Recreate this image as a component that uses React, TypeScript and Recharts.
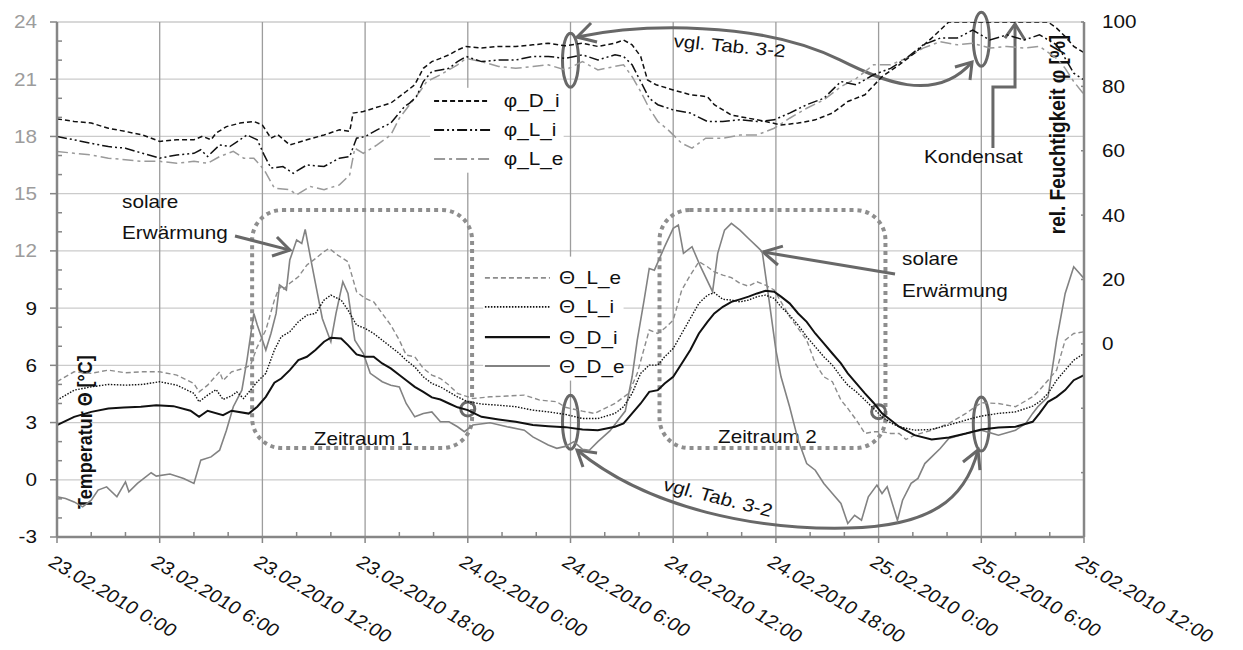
import { CartesianGrid, Line, LineChart, ReferenceArea, XAxis, YAxis } from 'recharts'

// [hours since 23.02.2010 0:00, value]
type Pt = [number, number]

const hourTicks = [0, 2, 4, 6, 8, 10, 12, 14, 16, 18, 20, 22, 24, 26, 28, 30, 32, 34, 36, 38, 40, 42, 44, 46, 48, 50, 52, 54, 56, 58, 60]
const gridHours = [0, 6, 12, 18, 24, 30, 36, 42, 48, 54, 60]
const dateLabels = [
  '23.02.2010 0:00', '23.02.2010 6:00', '23.02.2010 12:00', '23.02.2010 18:00',
  '24.02.2010 0:00', '24.02.2010 6:00', '24.02.2010 12:00', '24.02.2010 18:00',
  '25.02.2010 0:00', '25.02.2010 6:00', '25.02.2010 12:00',
]
const tempTicks = [-3, -2, -1, 0, 1, 2, 3, 4, 5, 6, 7, 8, 9, 10, 11, 12, 13, 14, 15, 16, 17, 18, 19, 20, 21, 22, 23, 24]
const tempGrid = [-3, 0, 3, 6, 9, 12, 15, 18, 21, 24]
const humTicks = [-60, -40, -20, 0, 20, 40, 60, 80, 100]

// temperatures in °C
const thetaDi: Pt[] = [
  [0, 2.87], [1, 3.3], [2, 3.56], [3, 3.74], [3.9, 3.79], [4.9, 3.83], [5.8, 3.91], [6.8, 3.86], [7.8, 3.62], [8.3, 3.3],
  [8.8, 3.62], [9.7, 3.39], [10.2, 3.62], [11.2, 3.47], [11.7, 3.83], [12.2, 4.35], [12.7, 5.09], [13.1, 5.31], [13.6, 5.75],
  [14.1, 6.27], [14.6, 6.45], [15.1, 6.8], [15.6, 7.24], [16, 7.45], [16.6, 7.41], [17, 7.06], [17.5, 6.57], [18, 6.45],
  [18.5, 6.45], [19, 6.1], [19.5, 5.84], [20, 5.49], [20.4, 5.22], [20.9, 4.87], [21.4, 4.61], [21.9, 4.32], [22.4, 4.21],
  [22.9, 4.0], [23.4, 3.8], [24, 3.65], [24.8, 3.3], [25.8, 3.16], [26.8, 3.04], [27.8, 2.87], [28.7, 2.81], [29.7, 2.76],
  [30.7, 2.64], [31.6, 2.6], [32.6, 2.78], [33.1, 2.95], [33.6, 3.48], [34.1, 4.0], [34.6, 4.61], [35.1, 4.7], [35.5, 5.05],
  [36, 5.4], [36.5, 6.1], [37, 6.8], [37.5, 7.67], [38, 8.28], [38.4, 8.72], [38.9, 9.07], [39.4, 9.33], [39.9, 9.46],
  [40.4, 9.6], [40.9, 9.77], [41.4, 9.91], [41.9, 9.86], [42.3, 9.6], [42.8, 9.25], [43.3, 8.72], [43.8, 8.28], [44.3, 7.67],
  [44.8, 7.15], [45.3, 6.62], [45.8, 6.1], [46.2, 5.58], [46.7, 5.05], [47.2, 4.53], [47.7, 4.04], [48.2, 3.48], [48.7, 3.13],
  [49.2, 2.78], [50.1, 2.34], [51.1, 2.11], [52.1, 2.22], [53.1, 2.43], [54, 2.64], [55, 2.74], [56, 2.78], [57, 3.04],
  [57.4, 3.48], [57.9, 4.09], [58.4, 4.35], [58.9, 4.7], [59.4, 5.22], [60, 5.49],
]

const thetaLi: Pt[] = [
  [0, 4.18], [1, 4.7], [2, 4.87], [3, 5.0], [4, 4.96], [5, 5.0], [6, 5.14], [7, 4.96], [8, 4.53], [8.3, 4.09], [8.8, 4.44],
  [9.3, 4.73], [9.7, 4.21], [10.2, 4.4], [10.5, 4.61], [10.9, 4.26], [11.3, 4.7], [11.7, 5.14], [12.2, 5.58], [12.7, 6.8],
  [13.1, 7.5], [13.6, 7.76], [14.1, 8.28], [14.6, 8.63], [15.1, 8.72], [15.6, 9.42], [16, 9.68], [16.6, 9.42], [17, 8.9],
  [17.5, 8.11], [18, 7.94], [18.5, 7.67], [19, 7.32], [19.5, 6.97], [20, 6.62], [20.4, 6.27], [20.9, 5.92], [21.4, 5.4],
  [21.9, 5.05], [22.4, 4.87], [22.9, 4.61], [23.4, 4.35], [24, 4.09], [24.8, 3.97], [25.8, 3.91], [26.8, 3.83], [27.8, 3.65],
  [28.7, 3.56], [29.7, 3.43], [30.7, 3.21], [31.6, 3.21], [32.6, 3.48], [33.1, 3.83], [33.6, 4.53], [34.1, 5.58], [34.6, 6.01],
  [35.1, 6.01], [35.5, 6.45], [36, 6.88], [36.5, 7.67], [37, 8.46], [37.5, 9.25], [38, 9.68], [38.4, 9.81], [38.9, 9.46],
  [39.4, 9.42], [39.9, 9.33], [40.4, 9.42], [40.9, 9.6], [41.4, 9.68], [41.9, 9.51], [42.3, 9.07], [42.8, 8.63], [43.3, 8.11],
  [43.8, 7.5], [44.3, 6.97], [44.8, 6.45], [45.3, 6.01], [45.8, 5.4], [46.2, 4.96], [46.7, 4.61], [47.2, 4.18], [47.7, 3.74],
  [48.2, 3.3], [48.7, 2.99], [49.2, 2.78], [50.1, 2.6], [51.1, 2.64], [52.1, 2.87], [53.1, 3.13], [54, 3.34], [55, 3.48],
  [56, 3.56], [57, 3.86], [57.4, 4.09], [57.9, 4.53], [58.4, 5.22], [58.9, 5.75], [59.4, 6.27], [60, 6.62],
]

const thetaLe: Pt[] = [
  [0, 5.14], [1, 5.66], [2, 5.58], [3, 5.75], [4, 5.61], [5, 5.66], [6, 5.66], [7, 5.49], [8, 5.05], [8.3, 4.61], [8.8, 4.96],
  [9.5, 5.66], [9.7, 5.2], [10.2, 5.66], [10.9, 5.84], [11.3, 6.0], [11.7, 6.97], [12.2, 7.85], [12.7, 9.42], [13, 10.12],
  [13.2, 9.95], [13.6, 10.3], [14.1, 10.64], [14.6, 11.26], [15.1, 11.6], [15.6, 11.96], [15.9, 12.13], [16.4, 11.78],
  [17, 11.43], [17.5, 9.86], [18, 9.51], [18.5, 9.33], [19, 8.72], [19.5, 8.11], [20, 7.32], [20.4, 6.54], [20.9, 6.45],
  [21.4, 5.84], [21.9, 5.49], [22.4, 5.31], [22.9, 4.96], [23.4, 4.53], [24.3, 4.26], [25.3, 4.35], [26.3, 4.39], [27.3, 4.44],
  [28.2, 4.18], [29.2, 4.09], [29.7, 3.8], [30.7, 3.6], [31.4, 3.48], [32.6, 4.0], [33.4, 4.53], [33.9, 5.58], [34.6, 7.85],
  [35.1, 7.67], [35.5, 7.94], [36, 8.37], [36.5, 9.95], [37, 10.73], [37.5, 11.43], [38, 11.17], [38.4, 10.9], [38.9, 10.73],
  [39.4, 10.6], [39.9, 10.3], [40.4, 10.15], [40.9, 10.38], [41.4, 10.2], [41.9, 9.95], [42.3, 9.33], [42.8, 8.55],
  [43.3, 7.94], [43.8, 7.32], [44.3, 6.1], [44.8, 5.4], [45.3, 5.14], [45.8, 4.18], [46.2, 3.74], [46.7, 3.13], [47.2, 2.43],
  [47.7, 2.52], [48.2, 2.52], [48.7, 2.43], [49.2, 2.43], [49.6, 2.11], [50.1, 2.34], [51.1, 2.6], [52.1, 2.95], [53.1, 3.48],
  [54, 4.04], [55, 4.0], [56, 3.83], [57, 4.35], [57.4, 4.7], [57.9, 5.22], [58.4, 5.75], [58.9, 7.32], [59.4, 7.67], [60, 7.76],
]

const thetaDe: Pt[] = [
  [0, -0.89], [0.5, -0.98], [1, -1.16], [1.5, -1.42], [2, -1.07], [2.4, -0.54], [2.9, -0.37], [3.5, -0.89], [4, -0.11],
  [4.2, -0.63], [4.7, -0.19], [5.5, 0.37], [5.8, 0.19], [6.6, 0.3], [7.4, 0.07], [8, -0.19], [8.4, 1.03], [9, 1.2], [9.5, 1.55],
  [9.9, 2.6], [10.3, 3.83], [10.8, 4.7], [11.1, 6.27], [11.5, 8.72], [11.7, 8.11], [12.2, 6.8], [12.5, 7.67], [12.8, 8.72],
  [13, 10.21], [13.4, 9.95], [13.6, 11.52], [14, 12.57], [14.3, 12.39], [14.5, 13.13], [14.8, 11.69], [15.1, 10.3],
  [15.5, 8.46], [16, 7.24], [16.3, 8.72], [16.7, 10.38], [17, 9.77], [17.4, 7.32], [17.9, 6.62], [18.3, 5.58], [19, 5.14],
  [19.5, 4.96], [20, 4.87], [20.4, 4.0], [20.9, 3.3], [21.4, 3.48], [21.9, 3.56], [22.4, 3.04], [22.9, 3.04], [23.4, 2.78],
  [23.8, 2.52], [24.3, 2.87], [25.3, 2.99], [26.3, 2.78], [27.3, 2.6], [27.8, 2.25], [28.7, 1.82], [29.2, 1.65], [29.7, 1.75],
  [30.2, 2.0], [30.7, 1.6], [31.1, 1.55], [31.6, 2.0], [32.3, 2.56], [33.2, 3.6], [33.6, 5.4], [33.9, 7.32], [34.3, 9.42],
  [34.6, 11.08], [34.9, 10.99], [35.5, 12.22], [36, 13.18], [36.3, 13.35], [36.6, 11.87], [37.1, 12.22], [37.6, 11.17],
  [38.3, 9.86], [38.6, 11.87], [39, 13.09], [39.4, 13.44], [39.9, 13.09], [40.4, 12.65], [40.9, 12.22], [41.2, 11.96],
  [41.6, 9.42], [42, 6.8], [42.3, 5.4], [42.8, 3.83], [43.3, 2.08], [43.8, 0.85], [44.3, 0.5], [44.8, -0.19], [45.3, -0.72],
  [45.8, -1.24], [46.2, -2.29], [46.6, -1.86], [47, -2.12], [47.4, -0.89], [47.9, -0.28], [48.2, -0.72], [48.5, -0.37],
  [49.1, -2.12], [49.4, -1.07], [49.9, -0.19], [50.3, 0.07], [50.7, 0.85], [51.1, 1.2], [51.6, 1.64], [52.1, 2.17],
  [53.1, 2.43], [54, 2.6], [55, 2.34], [56, 2.6], [56.6, 2.95], [57, 3.48], [57.3, 3.83], [57.9, 4.35], [58.4, 7.32],
  [58.9, 9.77], [59.4, 11.17], [60, 10.56],
]

// relative humidity in %
const phiDi: Pt[] = [
  [0, 69.9], [1, 69.1], [2, 68.6], [3, 67.0], [4, 66.0], [5, 64.9], [6, 62.9], [7, 63.4], [8, 63.4], [8.5, 64.5], [9, 63.4],
  [9.3, 65.5], [9.9, 67.5], [10.7, 68.6], [11.5, 69.1], [12, 68.0], [12.5, 63.9], [12.9, 65.0], [13.6, 61.8], [14.6, 63.4],
  [15.6, 64.9], [16.5, 66.5], [17.1, 66.0], [17.3, 71.7], [17.9, 72.2], [18.5, 73.2], [19.5, 74.8], [20, 76.8], [20.4, 78.4],
  [20.9, 80.5], [21.4, 85.6], [21.9, 87.7], [22.4, 88.7], [22.9, 89.8], [23.4, 91.3], [23.9, 92.4], [24.8, 91.9], [25.8, 92.4],
  [26.8, 92.4], [27.8, 92.9], [28.7, 93.4], [29.7, 92.6], [30.7, 93.4], [31.6, 92.4], [32.6, 93.4], [33.1, 94.4], [33.6, 92.9],
  [34.1, 89.3], [34.5, 82.0], [35, 80.5], [36, 78.9], [37, 77.4], [38, 76.8], [38.4, 74.3], [39.4, 71.1], [40.4, 70.1],
  [41.4, 69.1], [42.3, 68.0], [43.3, 68.6], [44.3, 69.6], [45.3, 71.7], [46.2, 75.3], [47.2, 77.4], [48.2, 83.0], [49.2, 86.7],
  [50.1, 90.3], [51.1, 95.0], [51.6, 97.5], [52.1, 100], [54, 100], [56, 100], [57.9, 100], [58.4, 98.1], [58.9, 95.5],
  [59.4, 92.4], [60, 90.5],
]

const phiLi: Pt[] = [
  [0, 64.4], [1, 63.4], [2, 62.3], [3, 61.3], [4, 60.8], [5, 59.2], [6, 57.7], [7, 58.7], [8, 59.2], [8.4, 60.3], [8.8, 58.2],
  [9.5, 61.8], [10.1, 61.3], [11.1, 64.9], [11.7, 63.4], [12.1, 58.7], [12.5, 54.6], [13.2, 55.1], [13.8, 53.0], [14.6, 55.6],
  [15.6, 55.1], [16.5, 57.7], [17.1, 58.2], [17.5, 63.9], [18, 64.4], [18.7, 66.5], [19.5, 68.6], [20.3, 73.7], [20.6, 74.8],
  [21, 76.8], [21.4, 81.5], [21.9, 84.6], [22.4, 85.1], [22.9, 85.6], [23.4, 87.7], [23.9, 89.3], [24.8, 87.7], [25.8, 88.2],
  [26.8, 88.2], [27.8, 89.3], [28.7, 89.3], [29.7, 88.7], [30.7, 89.8], [31.6, 88.2], [32.6, 89.8], [33.1, 89.3], [33.6, 86.7],
  [34.1, 81.5], [34.6, 76.3], [35.1, 74.3], [36, 72.7], [37, 71.7], [38, 69.1], [38.9, 69.1], [39.9, 69.6], [40.9, 69.1],
  [41.9, 69.6], [42.8, 71.7], [43.8, 74.3], [44.8, 76.3], [45.8, 81.5], [46.7, 80.5], [47.7, 83.6], [48.7, 85.6], [49.6, 88.7],
  [50.6, 92.9], [51.6, 95.0], [52.6, 95.0], [53.5, 97.5], [54.5, 94.4], [55.5, 96.0], [56.5, 94.4], [57.4, 96.0], [58.4, 92.9],
  [58.9, 88.7], [59.4, 84.1], [60, 82.0],
]

const phiLe: Pt[] = [
  [0, 59.8], [1, 59.2], [2, 58.7], [3, 57.7], [4, 57.2], [5, 56.7], [6, 56.7], [7, 56.1], [8, 56.7], [8.8, 56.1], [9.5, 58.2],
  [10.3, 59.8], [10.9, 57.7], [11.5, 57.7], [12.1, 54.1], [12.7, 48.4], [13.6, 47.9], [14, 46.3], [14.8, 48.9], [15.6, 47.9],
  [16.5, 49.4], [17.1, 52.5], [17.4, 60.8], [17.9, 59.2], [18.7, 61.8], [19.5, 64.9], [20, 70.1], [20.6, 74.3], [21.2, 78.4],
  [21.6, 81.5], [22.4, 83.6], [23.4, 86.7], [23.9, 88.7], [24.8, 87.7], [25.8, 86.2], [26.8, 85.6], [27.8, 86.2], [28.7, 86.7],
  [29.7, 85.1], [30.7, 87.7], [31.6, 85.1], [32.6, 86.2], [33.1, 86.7], [33.6, 83.0], [34.1, 78.4], [34.6, 73.2], [35.1, 69.1],
  [35.7, 66.5], [36.5, 62.3], [37.1, 60.8], [37.9, 63.9], [38.9, 63.9], [39.9, 64.9], [40.9, 64.9], [41.9, 67.0], [42.8, 70.1],
  [43.8, 73.2], [44.8, 75.8], [45.8, 79.9], [46.7, 82.5], [47.7, 86.7], [48.7, 86.7], [49.6, 88.7], [50.6, 91.9], [51.6, 93.9],
  [52.6, 92.9], [53.5, 93.4], [54.5, 91.9], [55.5, 92.4], [56.5, 91.9], [57.4, 92.4], [58.4, 88.7], [58.9, 85.6], [59.4, 81.5],
  [60, 77.5],
]

const FONT = 'Liberation Sans, Arial, sans-serif'
const STRETCH = 'scale(1.15 1)'
const AXIS = '#868686'
const NOTE = '#686868'

interface Series {
  name: string
  data: Pt[]
  axis: 0 | 'hum'
  stroke: string
  width: number
  dash?: string
}

const tempSeries: Series[] = [
  { name: 'Θ_L_e', data: thetaLe, axis: 0, stroke: '#8c8c8c', width: 1.4, dash: '5 3' },
  { name: 'Θ_L_i', data: thetaLi, axis: 0, stroke: '#111', width: 1.4, dash: '1.5 1.5' },
  { name: 'Θ_D_i', data: thetaDi, axis: 0, stroke: '#111', width: 2 },
  { name: 'Θ_D_e', data: thetaDe, axis: 0, stroke: '#828282', width: 1.6 },
]

const humSeries: Series[] = [
  { name: 'φ_D_i', data: phiDi, axis: 'hum', stroke: '#111', width: 1.5, dash: '5 3' },
  { name: 'φ_L_i', data: phiLi, axis: 'hum', stroke: '#111', width: 1.5, dash: '10 3 2 3 2 3' },
  { name: 'φ_L_e', data: phiLe, axis: 'hum', stroke: '#9a9a9a', width: 1.5, dash: '11 4 3 4' },
]

// draw order: gray outdoor curve below the indoor ones
const drawOrder = [tempSeries[3], tempSeries[0], tempSeries[1], tempSeries[2], ...humSeries.slice().reverse()]

function Txt({ x, y, children, size = 18, rotate = 0, anchor = 'start', weight = 'normal', fill = '#111', base = 'auto' }: any) {
  return (
    <text
      transform={`translate(${x} ${y}) ${STRETCH} rotate(${rotate})`}
      fontFamily={FONT}
      fontSize={size}
      fontWeight={weight}
      textAnchor={anchor}
      dominantBaseline={base}
      fill={fill}
    >
      {children}
    </text>
  )
}

function HourTick({ x, y, payload }: any) {
  const h = payload.value
  if (h % 6 !== 0) return <line x1={x} x2={x} y1={y} y2={y - 5} stroke={AXIS} strokeWidth={1.5} />
  return (
    <g>
      <line x1={x} x2={x} y1={y} y2={y + 6} stroke={AXIS} strokeWidth={1.5} />
      <Txt x={x - 10} y={y + 28} size={18} rotate={34}>{dateLabels[h / 6]}</Txt>
    </g>
  )
}

function TempTick({ x, y, payload }: any) {
  const v = payload.value
  if (v % 3 !== 0) return <line x1={x} x2={x + 5} y1={y} y2={y} stroke={AXIS} strokeWidth={1.5} />
  return (
    <g>
      <line x1={x - 7} x2={x} y1={y} y2={y} stroke={AXIS} strokeWidth={1.5} />
      <Txt x={x - 20} y={y} anchor="end" base="central" fill={v >= 12 ? '#9c9c9c' : '#111'}>{v}</Txt>
    </g>
  )
}

function HumTick({ x, y, payload }: any) {
  const v = payload.value
  return (
    <g>
      <line x1={x - 3} x2={x} y1={y} y2={y} stroke={AXIS} strokeWidth={1.5} />
      {v >= 0 && <Txt x={x + 18} y={y} base="central">{v}</Txt>}
    </g>
  )
}

function Head({ tip, a, b, P }: any) {
  return <path d={`M${P(...a)} L${P(...tip)} L${P(...b)}`} fill="none" stroke={NOTE} strokeWidth={3} />
}

function LegendBlock({ items, box, rows, line, textAt, px, py }: any) {
  return (
    <g>
      <rect x={px(box[0])} y={py(box[2])} width={px(box[1]) - px(box[0])} height={py(box[3]) - py(box[2])} fill="#fff" />
      {items.map((s: Series, i: number) => (
        <g key={s.name}>
          <line
            x1={px(line[0])}
            x2={px(line[1])}
            y1={py(rows[i])}
            y2={py(rows[i])}
            stroke={s.stroke}
            strokeWidth={s.width + 0.4}
            strokeDasharray={s.dash}
          />
          <Txt x={px(textAt)} y={py(rows[i])} base="central">{s.name}</Txt>
        </g>
      ))}
    </g>
  )
}

// annotations, placed in hours / °C through the plot rectangle
function Notes({ x, y, width, height }: any) {
  const px = (t: number) => x + (t / 60) * width
  const py = (T: number) => y + ((24 - T) / 27) * height
  const P = (t: number, T: number) => `${px(t)},${py(T)}`
  const box = (from: number, to: number) => (
    <rect
      x={px(from)}
      y={py(14.14)}
      width={px(to) - px(from)}
      height={py(1.66) - py(14.14)}
      rx={30}
      fill="none"
      stroke="#8e8e8e"
      strokeWidth={4}
      strokeDasharray="4 4"
    />
  )
  const ring = (t: number, T: number, rx: number, ry: number) => (
    <ellipse cx={px(t)} cy={py(T)} rx={rx} ry={ry} fill="none" stroke={NOTE} strokeWidth={3} />
  )
  return (
    <g>
      {box(11.4, 24.25)}
      {box(35.2, 48.4)}
      <Txt x={px(15.0)} y={py(1.82)}>Zeitraum 1</Txt>
      <Txt x={px(38.62)} y={py(1.92)}>Zeitraum 2</Txt>

      <LegendBlock items={humSeries} box={[21.8, 29.6, 20.55, 16.1]} rows={[19.86, 18.34, 16.82]} line={[22.03, 25.3]} textAt={26.1} px={px} py={py} />
      <LegendBlock items={tempSeries} box={[24.9, 33.1, 11.7, 5.2]} rows={[10.58, 9.06, 7.48, 5.96]} line={[25.0, 28.8]} textAt={29.33} px={px} py={py} />

      {ring(30, 22.0, 8, 27)}
      {ring(54, 23.1, 8, 27)}
      {ring(30, 3.02, 8, 27)}
      {ring(54, 2.92, 8, 27)}
      {ring(24, 3.71, 7, 7)}
      {ring(48, 3.57, 7, 7)}

      <path
        d={`M${P(30.38, 23.21)} C${P(34.06, 23.9)} ${P(41.07, 24.1)} ${P(45.74, 22.01)} C${P(48.08, 20.96)} ${P(51.29, 19.65)} ${P(53.46, 21.9)}`}
        fill="none"
        stroke={NOTE}
        strokeWidth={3}
      />
      <Head tip={[30.38, 23.21]} a={[31.2, 23.95]} b={[31.55, 22.95]} P={P} />
      <Head tip={[53.46, 21.9]} a={[52.46, 21.64]} b={[53.34, 20.96]} P={P} />
      <Txt x={px(35.99)} y={py(22.69)} rotate={6}>vgl. Tab. 3-2</Txt>

      <path
        d={`M${P(30.38, 1.56)} C${P(34.64, -1.59)} ${P(41.07, -2.64)} ${P(46.21, -2.53)} C${P(51.0, -2.43)} ${P(53.05, -1.07)} ${P(53.81, 1.56)}`}
        fill="none"
        stroke={NOTE}
        strokeWidth={3}
      />
      <Head tip={[30.38, 1.56]} a={[30.73, 0.67]} b={[31.55, 1.4]} P={P} />
      <Head tip={[53.81, 1.56]} a={[52.93, 0.93]} b={[53.92, 0.51]} P={P} />
      <Txt x={px(35.35)} y={py(-0.54)} rotate={16}>vgl. Tab. 3-2</Txt>

      <Txt x={px(3.8)} y={py(14.25)}>solare</Txt>
      <Txt x={px(3.8)} y={py(12.62)}>Erwärmung</Txt>
      <path d={`M${P(10.4, 12.78)} L${P(13.61, 12.04)}`} stroke={NOTE} strokeWidth={3} />
      <Head tip={[13.61, 12.04]} a={[12.85, 12.73]} b={[12.56, 11.73]} P={P} />

      <Txt x={px(49.37)} y={py(11.26)}>solare</Txt>
      <Txt x={px(49.37)} y={py(9.58)}>Erwärmung</Txt>
      <path d={`M${P(48.96, 10.79)} L${P(41.25, 11.94)}`} stroke={NOTE} strokeWidth={3} />
      <Head tip={[41.25, 11.94]} a={[42.41, 12.25]} b={[42.12, 11.26]} P={P} />

      <Txt x={px(50.65)} y={py(16.61)}>Kondensat</Txt>
      <path
        d={`M${P(54.68, 17.39)} L${P(54.68, 20.59)} L${P(55.97, 20.59)} L${P(55.97, 23.9)}`}
        fill="none"
        stroke={NOTE}
        strokeWidth={3}
      />
      <Head tip={[55.97, 23.9]} a={[55.38, 23.16]} b={[56.55, 23.06]} P={P} />

      <Txt x={px(1.58)} y={py(2.5)} rotate={-90} anchor="middle" base="central" weight="bold">Temperatur Θ [°C]</Txt>
      <Txt x={px(58.42)} y={py(18.1)} size={19} rotate={-90} anchor="middle" base="central" weight="bold">rel. Feuchtigkeit φ [%]</Txt>
    </g>
  )
}

export default function App() {
  return (
    <div style={{ position: 'absolute', left: 0, top: 0, background: '#fff' }}>
      <LineChart width={1243} height={650} margin={{ top: 22, right: 0, bottom: 0, left: 0 }} style={{ fontFamily: FONT }}>
        <CartesianGrid vertical={false} horizontalValues={tempGrid} stroke="#cbcbcb" strokeWidth={1.3} />
        <CartesianGrid horizontal={false} verticalValues={gridHours} stroke="#9d9d9d" strokeWidth={1.3} />
        <XAxis
          dataKey="t"
          type="number"
          domain={[0, 60]}
          ticks={hourTicks}
          interval={0}
          height={113}
          tickSize={0}
          tickMargin={0}
          tickLine={false}
          axisLine={{ stroke: AXIS, strokeWidth: 2.5 }}
          tick={<HourTick />}
          allowDataOverflow
        />
        <YAxis
          type="number"
          domain={[-3, 24]}
          ticks={tempTicks}
          interval={0}
          width={57}
          tickSize={0}
          tickMargin={0}
          tickLine={false}
          axisLine={{ stroke: AXIS, strokeWidth: 2.5 }}
          tick={<TempTick />}
          allowDataOverflow
        />
        <YAxis
          yAxisId="hum"
          orientation="right"
          type="number"
          domain={[-60, 100]}
          ticks={humTicks}
          interval={0}
          width={159}
          tickSize={0}
          tickMargin={0}
          tickLine={false}
          axisLine={{ stroke: AXIS, strokeWidth: 2.5 }}
          tick={<HumTick />}
          allowDataOverflow
        />
        {drawOrder.map((s) => (
          <Line
            key={s.name}
            data={s.data.map(([t, v]) => ({ t, v }))}
            dataKey="v"
            yAxisId={s.axis}
            type="linear"
            stroke={s.stroke}
            strokeWidth={s.width}
            strokeDasharray={s.dash}
            dot={false}
            activeDot={false}
            isAnimationActive={false}
          />
        ))}
        <ReferenceArea x1={0} x2={60} y1={-3} y2={24} ifOverflow="visible" shape={(p: any) => <Notes {...p} />} />
      </LineChart>
    </div>
  )
}
